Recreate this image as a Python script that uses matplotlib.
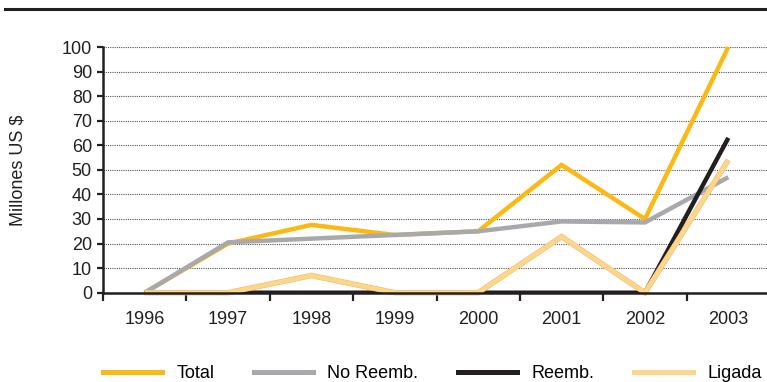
import matplotlib
matplotlib.use("Agg")
import matplotlib.pyplot as plt
from matplotlib.lines import Line2D
import matplotlib.patheffects as pe

plt.rcParams['font.family'] = ['Liberation Sans', 'DejaVu Sans']

years = ["1996", "1997", "1998", "1999", "2000", "2001", "2002", "2003"]
total = [0, 20, 27.6, 23.5, 25, 52, 30, 100]
no_reemb = [0, 20.5, 22, 23.5, 25, 29, 28.6, 47]
reemb = [0, 0, 0, 0, 0, 0, 0, 63]
ligada = [0, 0, 7, 0, 0, 22.8, 0, 54]
y_ticks = list(range(0, 101, 10))

ink = "#231F20"
# (label, values, colour, outline colour, clip to axes)
series = [
    ("Total", total, "#FDB913", None, False),
    ("No Reemb.", no_reemb, "#A7A9AC", None, False),
    ("Reemb.", reemb, ink, None, True),
    ("Ligada", ligada, "#FDD68A", "#E9B870", False),
]

fig = plt.figure(figsize=(7.67, 3.82), dpi=100)
ax = fig.add_axes([103 / 767, 1 - 292.7 / 382, 667 / 767, (292.7 - 47) / 382])

x = list(range(len(years)))
lw = 3.2
for name, vals, color, edge, clip in series:
    effects = None
    if edge:
        effects = [pe.Stroke(linewidth=lw + 0.7, foreground=edge), pe.Normal()]
    ax.plot(x, vals, color=color, lw=lw, solid_joinstyle="miter",
            solid_capstyle="butt", label=name, clip_on=clip, zorder=3,
            path_effects=effects)

ax.set_xlim(-0.5, len(years) - 0.5)
ax.set_ylim(0, 100)

ax.set_yticks(y_ticks)
ax.set_yticklabels([str(v) for v in y_ticks])
ax.set_xticks([i - 0.5 for i in range(len(years))])
ax.set_xticklabels([])
ax.set_xticks(x, minor=True)
ax.set_xticklabels(years, minor=True)

fs = 13
ax.tick_params(axis="y", direction="out", length=4, width=1.6, color=ink,
               pad=4, labelsize=fs, labelcolor=ink)
ax.tick_params(axis="x", which="major", direction="out", length=5.5, width=1.6,
               color=ink)
ax.tick_params(axis="x", which="minor", length=0, pad=13, labelsize=fs,
               labelcolor=ink)

for side in ("top", "right"):
    ax.spines[side].set_visible(False)
for side in ("left", "bottom"):
    ax.spines[side].set_color(ink)
    ax.spines[side].set_linewidth(1.8)
    ax.spines[side].set_zorder(4)

ax.yaxis.grid(True, linestyle=(0, (1, 1)), color="#555555", lw=0.8)
ax.set_axisbelow(True)

ax.set_ylabel("Millones US $", fontsize=fs, color=ink)
ax.yaxis.set_label_coords(-0.114, 0.5)

fig.add_artist(Line2D([5 / 767, 1], [1 - 9 / 382, 1 - 9 / 382],
                      transform=fig.transFigure, color=ink, lw=2.2))

handles = [Line2D([], [], color=s[2], lw=3.6) for s in series]
fig.legend(handles, [s[0] for s in series], loc="center left",
           bbox_to_anchor=(103 / 767, 1 - 374 / 382), ncol=4, frameon=False,
           fontsize=fs, handlelength=3.28, handletextpad=0.78,
           columnspacing=2.2, borderpad=0, borderaxespad=0)

fig.savefig("out.png", dpi=100)
